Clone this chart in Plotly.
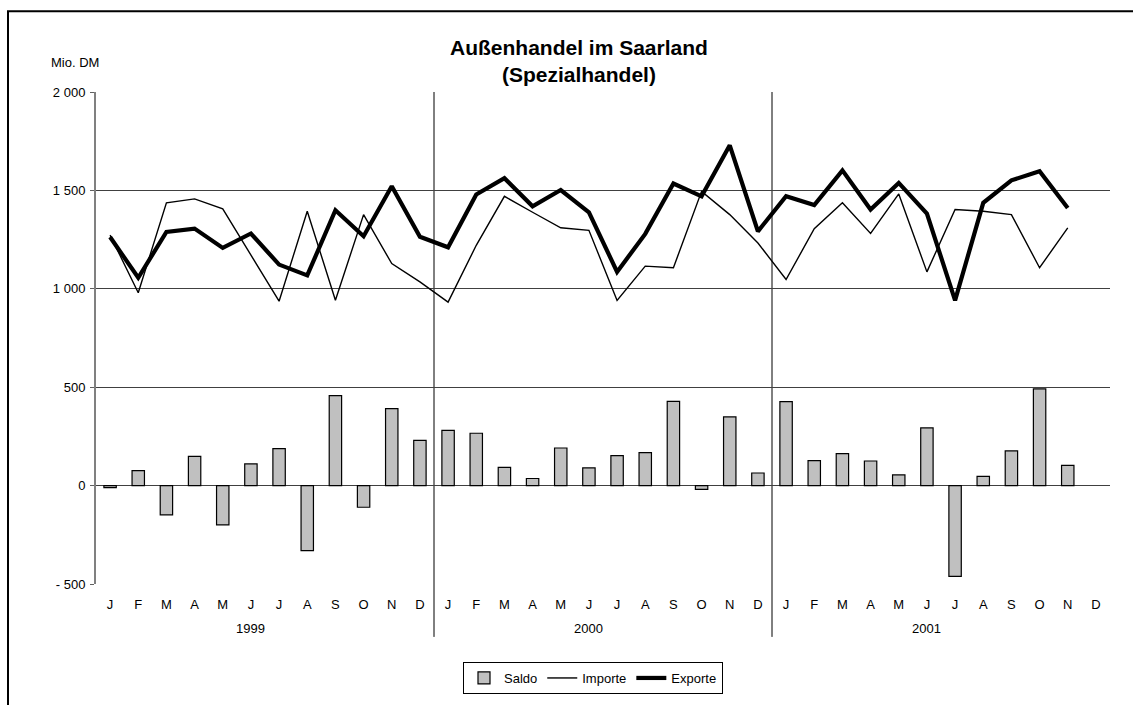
import plotly.graph_objects as go

# ---- data (Mio. DM) ----
months = ["J", "F", "M", "A", "M", "J", "J", "A", "S", "O", "N", "D"]
years = ["1999", "2000", "2001"]

saldo = [-10, 76, -149, 149, -200, 110, 188, -330, 457, -110, 391, 230,
         281, 266, 93, 36, 191, 90, 152, 168, 428, -19, 349, 64,
         427, 127, 162, 125, 54, 293, -461, 47, 176, 491, 103, None]
importe = [1273, 980, 1437, 1457, 1406, 1173, 937, 1394, 942, 1377, 1128, 1035,
           932, 1221, 1470, 1389, 1310, 1297, 941, 1115, 1107, 1495, 1377, 1233,
           1047, 1305, 1437, 1281, 1482, 1086, 1403, 1394, 1377, 1107, 1310, None]
exporte = [1263, 1056, 1289, 1306, 1208, 1281, 1123, 1068, 1399, 1267, 1521, 1264,
           1211, 1479, 1562, 1419, 1502, 1389, 1086, 1279, 1535, 1470, 1729, 1292,
           1470, 1426, 1602, 1403, 1538, 1382, 941, 1437, 1551, 1597, 1411, None]

y_ticks = [-500, 0, 500, 1000, 1500, 2000]
y_ticktext = ["- 500", "0", "500", "1 000", "1 500", "2 000"]

n = len(months) * len(years)
x = list(range(n))
month_labels = months * len(years)

FONT = "Arial, 'Liberation Sans', sans-serif"

fig = go.Figure()
fig.add_trace(go.Bar(x=x, y=saldo, name="Saldo", width=0.44,
                     marker=dict(color="#C0C0C0", line=dict(color="black", width=1.2))))
fig.add_trace(go.Scatter(x=x, y=importe, name="Importe", mode="lines",
                         line=dict(color="black", width=1.4)))
fig.add_trace(go.Scatter(x=x, y=exporte, name="Exporte", mode="lines",
                         line=dict(color="black", width=4.2)))

W, H = 1133, 705
L, R, T, B = 96, 23, 92, 120
pw, ph = W - L - R, H - T - B


def px_x(p):
    return (p - L) / pw


def px_y(p):
    return (H - B - p) / ph


ymin, ymax = -500, 2000
shapes = []
# outer chart border (extends beyond the window on the right and bottom)
shapes.append(dict(type="rect", xref="paper", yref="paper",
                   x0=px_x(8), x1=px_x(W + 20), y0=px_y(H + 20), y1=px_y(11),
                   line=dict(color="black", width=2), fillcolor="rgba(0,0,0,0)", layer="below"))
# year separators
for k in range(1, len(years)):
    shapes.append(dict(type="line", xref="x", yref="paper",
                       x0=12 * k - 0.5, x1=12 * k - 0.5, y0=px_y(638), y1=1,
                       line=dict(color="black", width=1), layer="below"))

annotations = [
    dict(text="<b>Außenhandel im Saarland<br>(Spezialhandel)</b>", xref="paper", yref="paper",
         x=px_x(578.5), y=px_y(61), xanchor="center", yanchor="middle", showarrow=False,
         font=dict(family=FONT, size=21, color="black")),
    dict(text="Mio. DM", xref="paper", yref="paper", x=px_x(74.5), y=px_y(62),
         xanchor="center", yanchor="middle", showarrow=False,
         font=dict(family=FONT, size=13, color="black")),
]
for g, yr in enumerate(years):
    annotations.append(dict(text=yr, xref="x", yref="paper", x=12 * g + 5, y=px_y(630),
                            xanchor="center", yanchor="middle", showarrow=False,
                            font=dict(family=FONT, size=13, color="black")))

fig.update_layout(
    width=W, height=H,
    margin=dict(l=L, r=R, t=T, b=B),
    paper_bgcolor="white", plot_bgcolor="white",
    font=dict(family=FONT, size=13, color="black"),
    showlegend=True,
    legend=dict(orientation="h", x=px_x(593), y=px_y(678), xanchor="center", yanchor="middle",
                bordercolor="black", borderwidth=1, bgcolor="white",
                font=dict(family=FONT, size=13, color="black"),
                itemwidth=30, tracegroupgap=0),
    shapes=shapes,
    annotations=annotations,
    bargap=0.56,
    xaxis=dict(range=[-0.5, n - 0.5], tickmode="array", tickvals=x, ticktext=month_labels,
               showgrid=False, zeroline=False, showline=False, ticks="",
               ticklabelstandoff=11,
               tickfont=dict(family=FONT, size=13, color="black"), fixedrange=True),
    xaxis2=dict(range=[-0.5, n - 0.5], overlaying="x", anchor="free",
                position=(0 - ymin) / (ymax - ymin),
                tickmode="array", tickvals=[k - 0.5 for k in range(n + 1)],
                showticklabels=False, ticks="outside", ticklen=4, tickcolor="black",
                showline=True, linecolor="black", linewidth=1, showgrid=False, zeroline=False),
    yaxis=dict(range=[ymin, ymax], tickmode="array", tickvals=y_ticks, ticktext=y_ticktext,
               showgrid=True, gridcolor="#404040", gridwidth=1, zeroline=False,
               showline=True, linecolor="#808080", linewidth=2,
               ticks="outside", ticklen=4, tickcolor="#606060", ticklabelstandoff=2,
               tickfont=dict(family=FONT, size=13, color="black")),
)

fig.write_html("out.html", config={"displayModeBar": False},
               post_script="document.body.style.margin='0';")
